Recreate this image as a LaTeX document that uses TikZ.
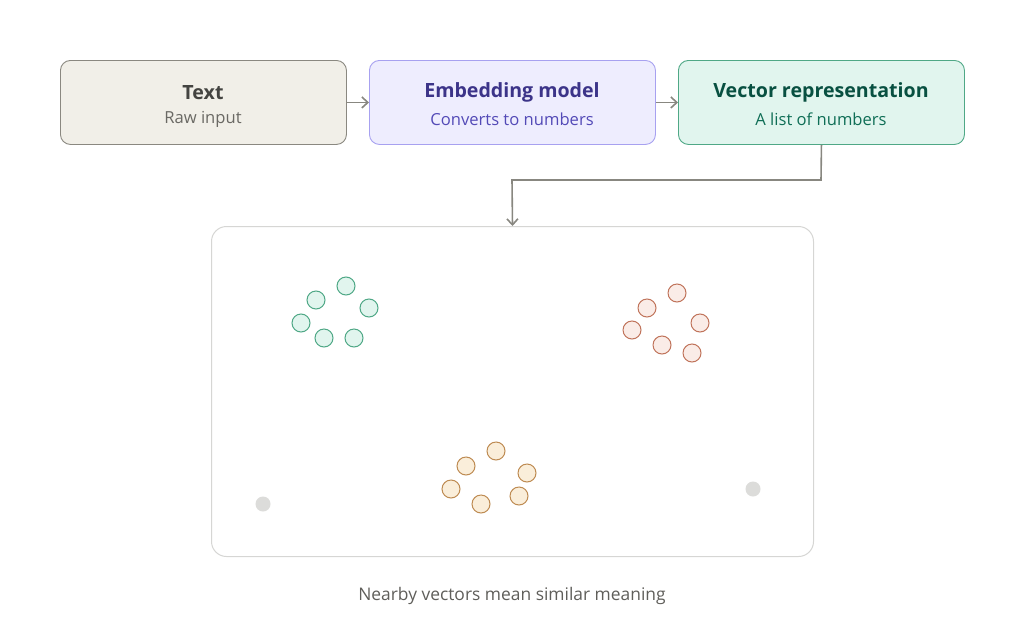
\documentclass[tikz,border=0pt]{standalone}
\usepackage{fontspec}
\setmainfont{Open Sans}
\usetikzlibrary{arrows.meta}
\definecolor{grayfill}{HTML}{F1EFE8}
\definecolor{graydraw}{HTML}{8A8880}
\definecolor{graytitle}{HTML}{444441}
\definecolor{graysub}{HTML}{6A6964}
\definecolor{purfill}{HTML}{EEEDFE}
\definecolor{purdraw}{HTML}{A7A1F0}
\definecolor{purtitle}{HTML}{3C3489}
\definecolor{pursub}{HTML}{534AB7}
\definecolor{grnfill}{HTML}{E1F5EE}
\definecolor{grndraw}{HTML}{4FA886}
\definecolor{grntitle}{HTML}{085041}
\definecolor{grnsub}{HTML}{0F6E56}
\definecolor{redfill}{HTML}{FAECE7}
\definecolor{reddraw}{HTML}{C0735A}
\definecolor{orgfill}{HTML}{FAEEDA}
\definecolor{orgdraw}{HTML}{BE8B52}
\definecolor{arrowc}{HTML}{888780}
\definecolor{framec}{HTML}{D6D6D4}
\definecolor{dotc}{HTML}{DCDCDA}
\definecolor{captc}{HTML}{5F5E5A}
\tikzset{
  stage/.style={draw, rounded corners=10pt, line width=0.9pt, minimum width=286pt, minimum height=84pt, anchor=north west, align=center, inner sep=0pt},
  conn/.style={draw=arrowc, line width=1.6pt, -{Straight Barb[length=6pt,width=11pt]}},
  pt/.style={circle, line width=1pt, minimum size=18pt, inner sep=0pt},
  gpt/.style={pt, draw=grndraw, fill=grnfill},
  rpt/.style={pt, draw=reddraw, fill=redfill},
  opt/.style={pt, draw=orgdraw, fill=orgfill},
  dot/.style={circle, fill=dotc, minimum size=15pt, inner sep=0pt},
  ttl/.style={font=\fontsize{19.6}{23}\selectfont\bfseries},
  sub/.style={font=\fontsize{16.6}{20}\selectfont}
}
\begin{document}
\begin{tikzpicture}[x=1pt,y=-1pt]
\useasboundingbox (0,0) rectangle (1024,632);
\node[stage, fill=grayfill, draw=graydraw] (t) at (60,60) {};
\node[ttl, text=graytitle] at (203,92.5) {Text};
\node[sub, text=graysub] at (203,119.5) {Raw input};
\node[stage, fill=purfill, draw=purdraw] (e) at (369,60) {};
\node[ttl, text=purtitle] at (512,92.5) {Embedding model};
\node[sub, text=pursub] at (512,119.5) {Converts to numbers};
\node[stage, fill=grnfill, draw=grndraw] (v) at (678,60) {};
\node[ttl, text=grntitle] at (821,92.5) {Vector representation};
\node[sub, text=grnsub] at (821,119.5) {A list of numbers};
\node[draw=framec, line width=1pt, fill=white, rounded corners=15pt, minimum width=602pt, minimum height=330pt, anchor=north west, inner sep=0pt] (space) at (211,226) {};
\draw[conn] (t.east) -- (e.west);
\draw[conn] (e.east) -- (v.west);
\draw[conn] (v.south) -- (821,180) -- (512,180) -- (space.north);
% green cluster
\node[gpt] (g1) at (346,286) {};
\node[gpt] (g2) at (316,300) {};
\node[gpt] (g3) at (369,308) {};
\node[gpt] (g4) at (301,323) {};
\node[gpt] (g5) at (324,338) {};
\node[gpt] (g6) at (354,338) {};
% red cluster
\node[rpt] (r1) at (677,293) {};
\node[rpt] (r2) at (647,308) {};
\node[rpt] (r3) at (700,323) {};
\node[rpt] (r4) at (632,330) {};
\node[rpt] (r5) at (662,345) {};
\node[rpt] (r6) at (692,353) {};
% orange cluster
\node[opt] (o1) at (496,451) {};
\node[opt] (o2) at (466,466) {};
\node[opt] (o3) at (527,473) {};
\node[opt] (o4) at (451,489) {};
\node[opt] (o5) at (481,504) {};
\node[opt] (o6) at (519,496) {};
% outliers
\node[dot] (d1) at (263,504) {};
\node[dot] (d2) at (753,489) {};
\node[font=\fontsize{17.4}{20}\selectfont, text=captc] (cap) at (512,596) {Nearby vectors mean similar meaning};
\end{tikzpicture}
\end{document}
